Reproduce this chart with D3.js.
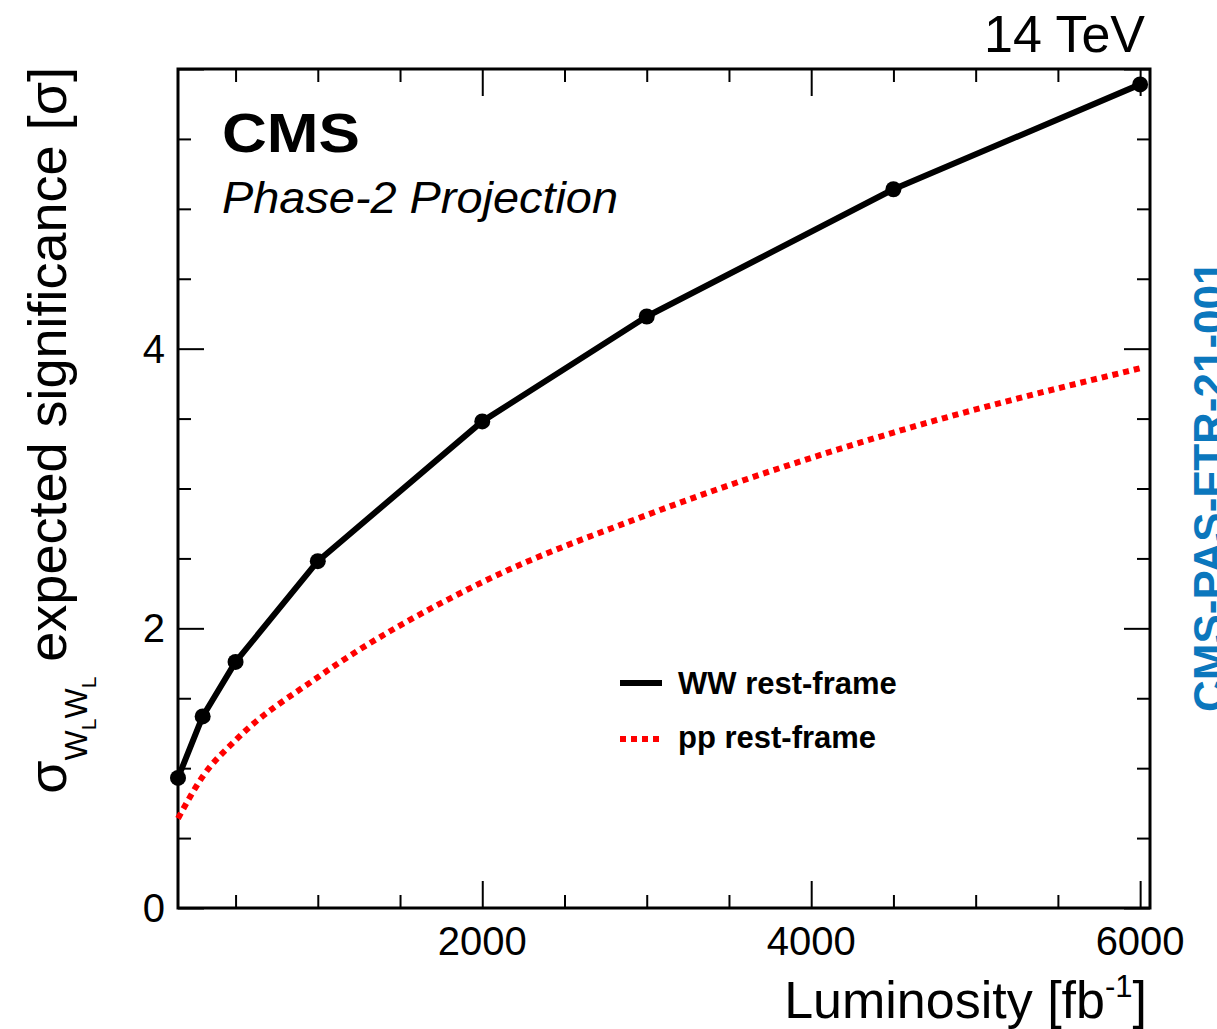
<!DOCTYPE html>
<html>
<head>
<meta charset="utf-8">
<script src="https://cdn.jsdelivr.net/npm/d3@7"></script>
<style>
  html, body { margin: 0; padding: 0; background: #fff; }
  svg { display: block; font-family: "Liberation Sans", Arial, Helvetica, sans-serif; }
</style>
</head>
<body>
<svg id="chart" width="1217" height="1029"></svg>
<script>
// ---- data ----
const luminosity = [150, 300, 500, 1000, 2000, 3000, 4500, 6000];
const wwRestFrame = [0.93, 1.37, 1.76, 2.48, 3.48, 4.23, 5.14, 5.89];
const ppRestFrame = [0.64, 0.94, 1.20, 1.65, 2.33, 2.81, 3.40, 3.86];
const xMajorTicks = [2000, 4000, 6000];
const xMinorTicks = [500, 1000, 1500, 2500, 3000, 3500, 4500, 5000, 5500];
const yMajorTicks = [0, 2, 4, 6];
const yMinorTicks = [0.5, 1, 1.5, 2.5, 3, 3.5, 4.5, 5, 5.5];
const yLabelTicks = [0, 2, 4];
const seriesNames = ["WW rest-frame", "pp rest-frame"];

// ---- layout ----
const svg = d3.select("#chart");
const L = 178, R = 1150, T = 69, B = 908;
const x = d3.scaleLinear().domain([150, 6060]).range([L, R]);
const y = d3.scaleLinear().domain([0, 6]).range([B, T]);

// ---- axes (ticks) ----
function drawAxis(gen, transform, ticks, size) {
  const g = svg.append("g").attr("transform", transform)
    .call(gen.tickValues(ticks).tickSize(size).tickFormat(""));
  g.select(".domain").remove();
  g.selectAll(".tick line").attr("stroke", "#000").attr("stroke-width", 2);
  return g;
}
drawAxis(d3.axisTop(x), `translate(0,${B})`, xMajorTicks, 27);
drawAxis(d3.axisTop(x), `translate(0,${B})`, xMinorTicks, 13);
drawAxis(d3.axisBottom(x), `translate(0,${T})`, xMajorTicks, 27);
drawAxis(d3.axisBottom(x), `translate(0,${T})`, xMinorTicks, 13);
drawAxis(d3.axisRight(y), `translate(${L},0)`, yMajorTicks, 26);
drawAxis(d3.axisRight(y), `translate(${L},0)`, yMinorTicks, 13);
drawAxis(d3.axisLeft(y), `translate(${R},0)`, yMajorTicks, 26);
drawAxis(d3.axisLeft(y), `translate(${R},0)`, yMinorTicks, 13);

// tick labels
svg.append("g").selectAll("text").data(xMajorTicks).join("text")
  .attr("x", d => x(d)).attr("y", 955)
  .attr("text-anchor", "middle").attr("font-size", 40).text(d => d);
svg.append("g").selectAll("text").data(yLabelTicks).join("text")
  .attr("x", 165).attr("y", d => y(d) + 14)
  .attr("text-anchor", "end").attr("font-size", 40).text(d => d);

// frame
svg.append("rect").attr("x", L).attr("y", T).attr("width", R - L).attr("height", B - T)
  .attr("fill", "none").attr("stroke", "#000").attr("stroke-width", 3);

// ---- series ----
const line = d3.line().x(d => x(d[0])).y(d => y(d[1]));
const ppCurve = d3.line().x(d => x(d[0])).y(d => y(d[1])).curve(d3.curveMonotoneX);

svg.append("path")
  .datum(luminosity.map((l, i) => [l, ppRestFrame[i]]))
  .attr("d", ppCurve).attr("fill", "none").attr("stroke", "#ff0000")
  .attr("stroke-width", 6).attr("stroke-dasharray", "6,5");

svg.append("path")
  .datum(luminosity.map((l, i) => [l, wwRestFrame[i]]))
  .attr("d", line).attr("fill", "none").attr("stroke", "#000")
  .attr("stroke-width", 6).attr("stroke-linejoin", "round");

svg.append("g").selectAll("circle").data(luminosity.map((l, i) => [l, wwRestFrame[i]])).join("circle")
  .attr("cx", d => x(d[0])).attr("cy", d => y(d[1])).attr("r", 8).attr("fill", "#000");

// ---- legend ----
const leg = svg.append("g");
leg.append("line").attr("x1", 620).attr("x2", 662).attr("y1", 683).attr("y2", 683)
  .attr("stroke", "#000").attr("stroke-width", 6);
leg.append("line").attr("x1", 620).attr("x2", 662).attr("y1", 739).attr("y2", 739)
  .attr("stroke", "#ff0000").attr("stroke-width", 6).attr("stroke-dasharray", "6,5");
leg.append("text").attr("x", 678).attr("y", 694).attr("font-size", 31).attr("font-weight", "bold").text(seriesNames[0]);
leg.append("text").attr("x", 678).attr("y", 748).attr("font-size", 31).attr("font-weight", "bold").text(seriesNames[1]);

// ---- labels ----
svg.append("text").attr("x", 222).attr("y", 152).attr("font-size", 56).attr("font-weight", "bold")
  .attr("textLength", 138).attr("lengthAdjust", "spacingAndGlyphs").text("CMS");
svg.append("text").attr("x", 222).attr("y", 213).attr("font-size", 45).attr("font-style", "italic")
  .attr("textLength", 396).attr("lengthAdjust", "spacingAndGlyphs").text("Phase-2 Projection");
svg.append("text").attr("x", 1145).attr("y", 52).attr("font-size", 52).attr("text-anchor", "end").text("14 TeV");

// x title
const xt = svg.append("text").attr("x", 1147).attr("y", 1018).attr("font-size", 52).attr("text-anchor", "end");
xt.append("tspan").text("Luminosity [fb");
xt.append("tspan").attr("font-size", 31).attr("dy", -21).text("-1");
xt.append("tspan").attr("dy", 21).text("]");

// y title
const yt = svg.append("text").attr("transform", "translate(66,67) rotate(-90)")
  .attr("font-size", 54).attr("text-anchor", "end");
yt.append("tspan").text("σ");
yt.append("tspan").attr("font-size", 32).attr("dy", 21).text("W");
yt.append("tspan").attr("font-size", 21).attr("dy", 9).text("L");
yt.append("tspan").attr("font-size", 32).attr("dy", -9).text("W");
yt.append("tspan").attr("font-size", 21).attr("dy", 9).text("L");
yt.append("tspan").attr("dy", -30).text(" expected significance [σ]");

// side label
svg.append("text").attr("transform", "translate(1225,712) rotate(-90)")
  .attr("font-size", 44).attr("font-weight", "bold").attr("fill", "#0b77bd").text("CMS-PAS-FTR-21-001");
</script>
</body>
</html>
